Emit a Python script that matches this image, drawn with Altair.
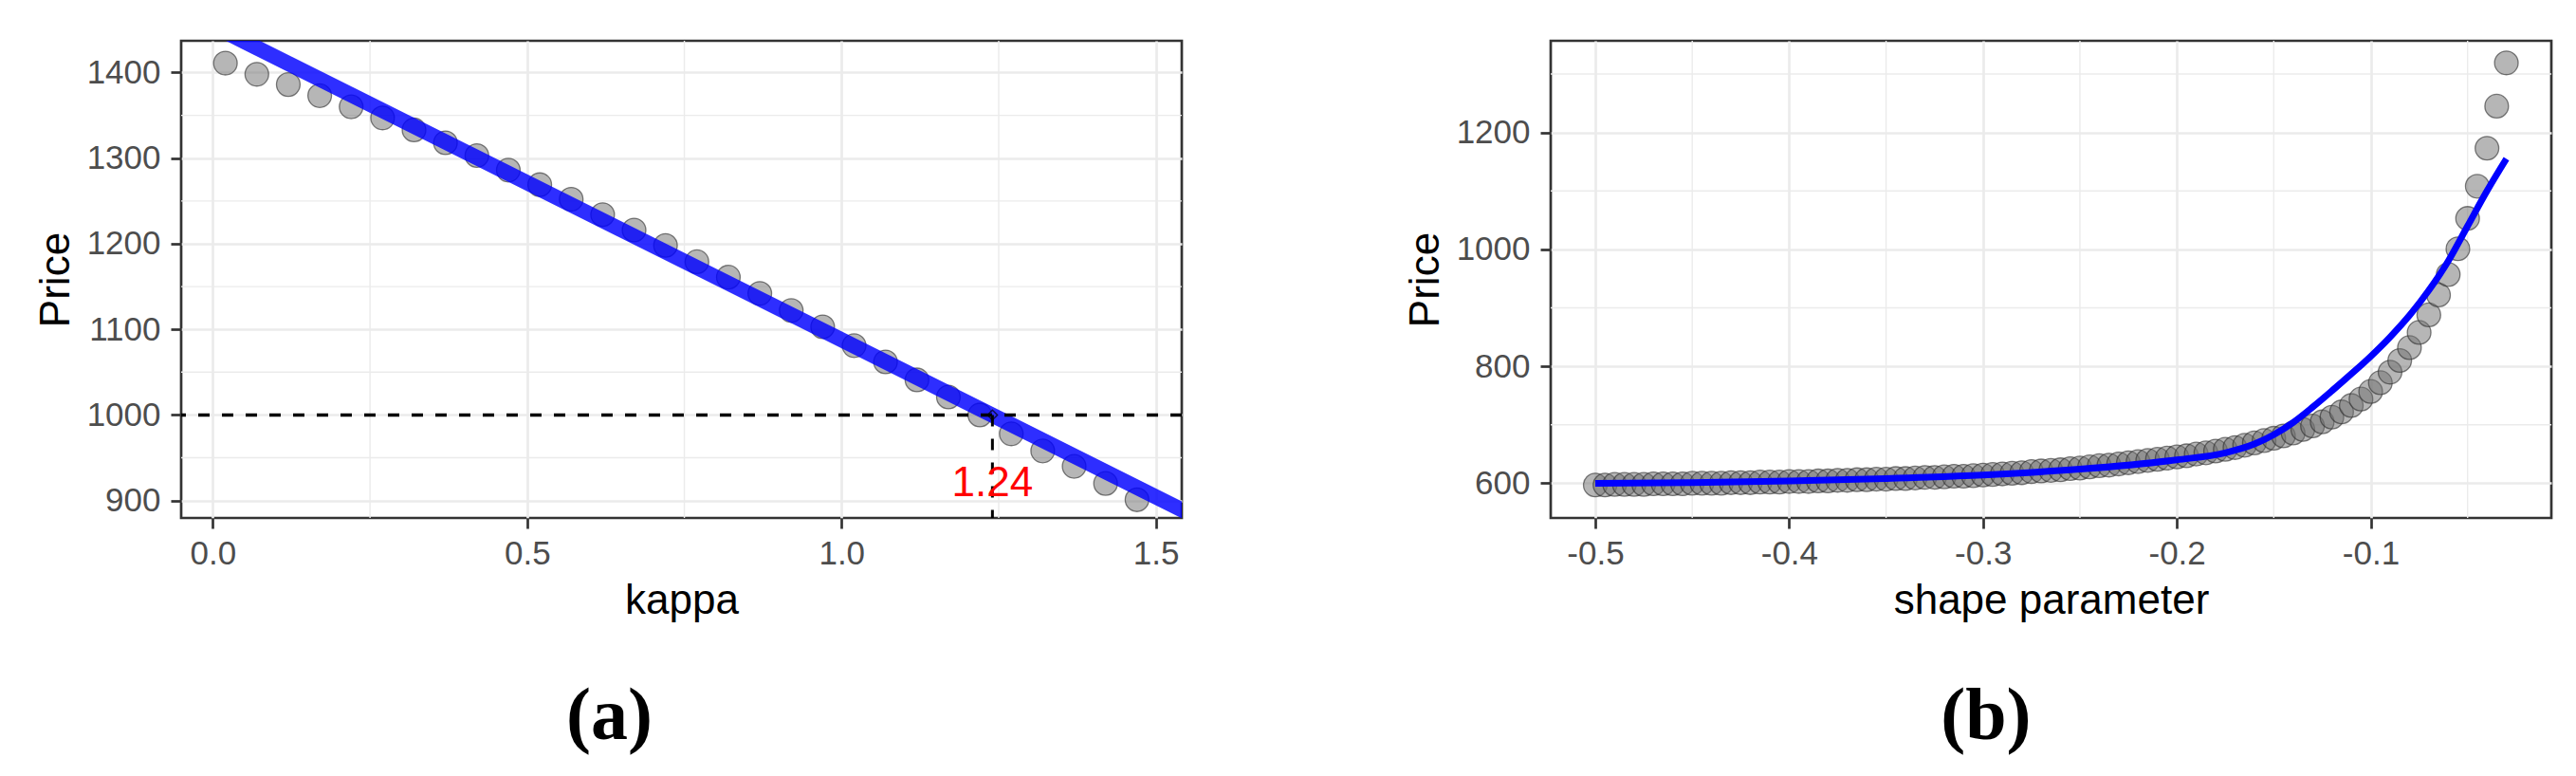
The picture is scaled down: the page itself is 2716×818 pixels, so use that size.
import altair as alt
import pandas as pd

FONT = "Liberation Sans"
SERIF = "Liberation Serif"

# ---------------- Panel (a): price vs kappa ----------------
kappa = [0.02, 0.07, 0.12, 0.17, 0.22, 0.27, 0.32, 0.37, 0.42, 0.47,
         0.52, 0.57, 0.62, 0.67, 0.72, 0.77, 0.82, 0.87, 0.92, 0.97,
         1.02, 1.07, 1.12, 1.17, 1.22, 1.27, 1.32, 1.37, 1.42, 1.47]
price_a = [1411, 1398, 1386, 1373, 1360, 1347, 1333, 1318, 1303, 1286,
           1269, 1252, 1234, 1216, 1198, 1179, 1161, 1142, 1122, 1103,
           1081, 1062, 1041, 1021, 1000, 978, 958, 940, 920, 901]
# fitted straight line (read at both panel edges)
fit_kappa = [-0.05, 1.55]
fit_price_a = [1473, 886]
kappa_star = [1.24]
price_target = [1000]
label_price = [905]

xa_ticks = [0.0, 0.5, 1.0, 1.5]
xa_minor = [0.25, 0.75, 1.25]
ya_ticks = [900, 1000, 1100, 1200, 1300, 1400]
ya_minor = [950, 1050, 1150, 1250, 1350]
xa_domain = [-0.0504, 1.5412]
ya_domain = [879.7, 1437.1]

# ---------------- Panel (b): price vs shape parameter ----------------
shape = [-0.500, -0.495, -0.490, -0.485, -0.480, -0.475, -0.470, -0.465, -0.460, -0.455,
         -0.450, -0.445, -0.440, -0.435, -0.430, -0.425, -0.420, -0.415, -0.410, -0.405,
         -0.400, -0.395, -0.390, -0.385, -0.380, -0.375, -0.370, -0.365, -0.360, -0.355,
         -0.350, -0.345, -0.340, -0.335, -0.330, -0.325, -0.320, -0.315, -0.310, -0.305,
         -0.300, -0.295, -0.290, -0.285, -0.280, -0.275, -0.270, -0.265, -0.260, -0.255,
         -0.250, -0.245, -0.240, -0.235, -0.230, -0.225, -0.220, -0.215, -0.210, -0.205,
         -0.200, -0.195, -0.190, -0.185, -0.180, -0.175, -0.170, -0.165, -0.160, -0.155,
         -0.150, -0.145, -0.140, -0.135, -0.130, -0.125, -0.120, -0.115, -0.110, -0.105,
         -0.100, -0.095, -0.090, -0.085, -0.080, -0.075, -0.070, -0.065, -0.060, -0.055,
         -0.050, -0.045, -0.040, -0.035, -0.030]
price_b = [597, 597, 598, 598, 598, 598, 599, 599, 599, 599,
           600, 600, 600, 600, 601, 601, 601, 602, 602, 602,
           603, 603, 603, 604, 604, 605, 605, 606, 606, 607,
           607, 608, 608, 609, 610, 610, 611, 612, 612, 613,
           614, 615, 616, 617, 618, 620, 621, 622, 623, 625,
           626, 628, 630, 631, 633, 635, 637, 639, 641, 643,
           645, 647, 650, 652, 655, 658, 661, 665, 669, 673,
           677, 681, 686, 692, 698, 705, 713, 722, 733, 744,
           757, 772, 790, 810, 832, 858, 888, 922, 957, 1001,
           1053, 1108, 1173, 1245, 1319]
fit_shape = [-0.50, -0.45, -0.40, -0.35, -0.30, -0.25, -0.20, -0.175, -0.16, -0.15,
             -0.14, -0.13, -0.12, -0.11, -0.10, -0.09, -0.08, -0.07, -0.06, -0.05,
             -0.04, -0.03]
fit_price_b = [600, 601, 604, 608, 614, 624, 640, 652, 667, 683,
               704, 730, 758, 787, 817, 850, 887, 930, 980, 1040,
               1100, 1155]

xb_ticks = [-0.5, -0.4, -0.3, -0.2, -0.1]
xb_minor = [-0.45, -0.35, -0.25, -0.15, -0.05]
yb_ticks = [600, 800, 1000, 1200]
yb_minor = [700, 900, 1100, 1300]
xb_domain = [-0.523, -0.0068]
yb_domain = [540.6, 1356.8]

W, H = 1055, 503
GRID = "#EBEBEB"
DARK = "#333333"


def x_axis(values, title):
    return alt.Axis(values=values, title=title, grid=True,
                    labelExpr="replace(format(datum.value, '.1f'), '\u2212', '-')",
                    gridColor=GRID, gridWidth=2.7, domain=False,
                    tickColor=DARK, tickWidth=2.7, tickSize=11,
                    labelFont=FONT, labelFontSize=35, labelColor="#4D4D4D",
                    labelPadding=9, labelFlush=False, labelOverlap=False,
                    titleFont=FONT, titleFontSize=44, titleFontWeight="normal",
                    titleColor="black", titlePadding=10)


def y_axis(values, title):
    return alt.Axis(values=values, format="d", title=title, grid=True,
                    gridColor=GRID, gridWidth=2.7, domain=False,
                    tickColor=DARK, tickWidth=2.7, tickSize=11,
                    labelFont=FONT, labelFontSize=35, labelColor="#4D4D4D",
                    labelPadding=11, labelFlush=False, labelOverlap=False,
                    titleFont=FONT, titleFontSize=44, titleFontWeight="normal",
                    titleColor="black", titlePadding=10)


def minor_grid(xs, ys, xfield, yfield, xsc, ysc):
    vx = alt.Chart(pd.DataFrame({xfield: xs})).mark_rule(
        color=GRID, strokeWidth=1.4).encode(x=alt.X(f"{xfield}:Q", scale=xsc))
    hy = alt.Chart(pd.DataFrame({yfield: ys})).mark_rule(
        color=GRID, strokeWidth=1.4).encode(y=alt.Y(f"{yfield}:Q", scale=ysc))
    return vx + hy


point_style = dict(size=620, fill="#6E6E6E", fillOpacity=0.5,
                   stroke="#2B2B2B", strokeOpacity=0.6, strokeWidth=1.3)

view_box = alt.ViewBackground(stroke=DARK, strokeWidth=2.7, fill="white")

# ---- panel (a)
xsa = alt.Scale(domain=xa_domain, nice=False, zero=False)
ysa = alt.Scale(domain=ya_domain, nice=False, zero=False)

df_a = pd.DataFrame({"kappa": kappa, "price": price_a})
df_fit_a = pd.DataFrame({"kappa": fit_kappa, "price": fit_price_a})
df_star = pd.DataFrame({"kappa": kappa_star, "price": price_target,
                        "label_price": label_price,
                        "label": [f"{k:.2f}" for k in kappa_star]})

pts_a = alt.Chart(df_a).mark_circle(**point_style).encode(
    x=alt.X("kappa:Q", scale=xsa, axis=x_axis(xa_ticks, "kappa")),
    y=alt.Y("price:Q", scale=ysa, axis=y_axis(ya_ticks, "Price")),
)
line_a = alt.Chart(df_fit_a).mark_line(color="blue", strokeWidth=16, opacity=0.82,
                                       clip=True, strokeCap="butt").encode(
    x=alt.X("kappa:Q", scale=xsa), y=alt.Y("price:Q", scale=ysa))
hline = alt.Chart(df_star).mark_rule(color="black", strokeWidth=3.5,
                                     strokeDash=[12, 13]).encode(
    y=alt.Y("price:Q", scale=ysa))
vline = alt.Chart(df_star).mark_rule(color="black", strokeWidth=3,
                                     strokeDash=[12, 13]).encode(
    x=alt.X("kappa:Q", scale=xsa), y=alt.Y("price:Q", scale=ysa),
    y2=alt.datum(ya_domain[0]))
marker = alt.Chart(df_star).mark_point(shape="diamond", size=110, filled=False,
                                       stroke="black", strokeWidth=1.5).encode(
    x=alt.X("kappa:Q", scale=xsa), y=alt.Y("price:Q", scale=ysa))
label = alt.Chart(df_star).mark_text(color="red", font=FONT, fontSize=44,
                                     align="center", baseline="alphabetic").encode(
    x=alt.X("kappa:Q", scale=xsa), y=alt.Y("label_price:Q", scale=ysa),
    text="label:N")

panel_a = alt.layer(
    minor_grid(xa_minor, ya_minor, "kappa", "price", xsa, ysa),
    pts_a, line_a, hline, vline, marker, label,
).properties(
    width=W, height=H, view=view_box,
    title=alt.TitleParams("(a)", orient="bottom", anchor="middle", frame="bounds",
                          font=SERIF, fontSize=78, fontWeight="bold", color="black",
                          baseline="top", offset=62, dx=0),
)

# ---- panel (b)
xsb = alt.Scale(domain=xb_domain, nice=False, zero=False)
ysb = alt.Scale(domain=yb_domain, nice=False, zero=False)

df_b = pd.DataFrame({"shape": shape, "price": price_b})
df_fit_b = pd.DataFrame({"shape": fit_shape, "price": fit_price_b})

pts_b = alt.Chart(df_b).mark_circle(**point_style).encode(
    x=alt.X("shape:Q", scale=xsb, axis=x_axis(xb_ticks, "shape parameter")),
    y=alt.Y("price:Q", scale=ysb, axis=y_axis(yb_ticks, "Price")),
)
line_b = alt.Chart(df_fit_b).mark_line(color="#0000FF", strokeWidth=7,
                                       interpolate="monotone").encode(
    x=alt.X("shape:Q", scale=xsb), y=alt.Y("price:Q", scale=ysb))

panel_b = alt.layer(
    minor_grid(xb_minor, yb_minor, "shape", "price", xsb, ysb),
    pts_b, line_b,
).properties(
    width=W, height=H, view=view_box,
    title=alt.TitleParams("(b)", orient="bottom", anchor="middle", frame="bounds",
                          font=SERIF, fontSize=78, fontWeight="bold", color="black",
                          baseline="top", offset=62, dx=8),
)

chart = alt.hconcat(panel_a, panel_b, spacing=229).properties(
    padding={"left": 27, "top": 32, "right": 0, "bottom": 0},
    background="white",
).configure(
    font=FONT,
    view=alt.ViewConfig(stroke=DARK, strokeWidth=2.7),
)

chart.save("out.html", embed_options={"renderer": "svg", "actions": False})
